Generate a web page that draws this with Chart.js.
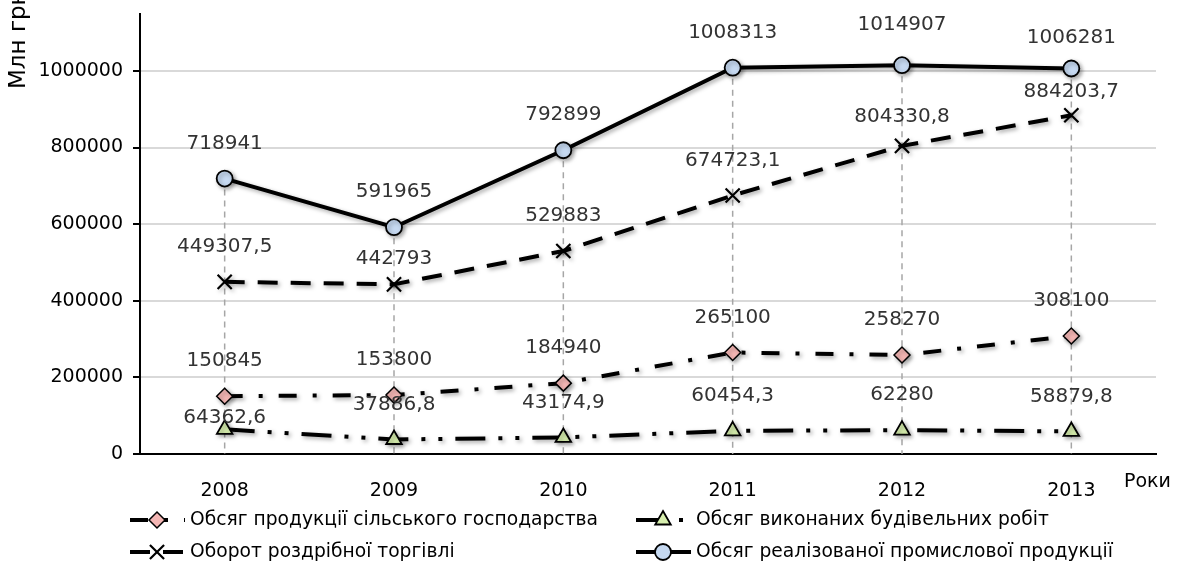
<!DOCTYPE html>
<html>
<head>
<meta charset="utf-8">
<script src="https://cdn.jsdelivr.net/npm/chart.js@4.4.1/dist/chart.umd.min.js"></script>
<style>
    html, body { margin: 0; padding: 0; background: #fff; }
    #wrap { width: 1180px; height: 568px; position: relative; }
</style>
</head>
<body>
<div id="wrap"><canvas id="chart"></canvas></div>
<script>
// Chart data
const years = ['2008', '2009', '2010', '2011', '2012', '2013'];
const agriculture = [150845, 153800, 184940, 265100, 258270, 308100];
const construction = [64362.6, 37886.8, 43174.9, 60454.3, 62280, 58879.8];
const retail = [449307.5, 442793, 529883, 674723.1, 804330.8, 884203.7];
const industry = [718941, 591965, 792899, 1008313, 1014907, 1006281];
const seriesNames = [
    'Обсяг продукції сільського господарства',
    'Обсяг виконаних будівельних робіт',
    'Оборот роздрібної торгівлі',
    'Обсяг реалізованої промислової продукції'
];
const yTicks = [0, 200000, 400000, 600000, 800000, 1000000];
const yTitle = 'Млн грн';
const xTitle = 'Роки';

const FONT = '"DejaVu Sans", sans-serif';
const TEXT = '#333';

function fmt(v) {
    return String(v).replace('.', ',');
}

// dashed drop lines from the top point down to the axis
const dropLines = {
    id: 'dropLines',
    beforeDatasetsDraw(chart) {
        const ctx = chart.ctx;
        const x = chart.scales.x, y = chart.scales.y;
        ctx.save();
        ctx.strokeStyle = '#a6a6a6';
        ctx.lineWidth = 1.5;
        ctx.setLineDash([6, 5]);
        years.forEach((yr, i) => {
            const top = Math.max(agriculture[i], construction[i], retail[i], industry[i]);
            const px = x.getPixelForValue(i);
            ctx.beginPath();
            ctx.moveTo(px, y.getPixelForValue(top));
            ctx.lineTo(px, y.getPixelForValue(0));
            ctx.stroke();
        });
        ctx.restore();
    }
};

// soft shadow under the lines, like the original
const lineShadow = {
    id: 'lineShadow',
    beforeDatasetDraw(chart) {
        const ctx = chart.ctx;
        ctx.save();
        ctx.shadowColor = 'rgba(0,0,0,0.35)';
        ctx.shadowBlur = 4;
        ctx.shadowOffsetX = 2;
        ctx.shadowOffsetY = 2;
    },
    afterDatasetDraw(chart) {
        chart.ctx.restore();
    }
};

// value labels above each point (a few sit closer, as in the original)
const labelLift = { '1-0': 12, '2-1': 26, '2-5': 23, '2-4': 29, '3-5': 31, '3-4': 40 };
const valueLabels = {
    id: 'valueLabels',
    afterDatasetsDraw(chart) {
        const ctx = chart.ctx;
        ctx.save();
        ctx.font = '20px ' + FONT;
        ctx.fillStyle = TEXT;
        ctx.textAlign = 'center';
        ctx.textBaseline = 'middle';
        chart.data.datasets.forEach((ds, di) => {
            const meta = chart.getDatasetMeta(di);
            meta.data.forEach((pt, i) => {
                const lift = labelLift[di + '-' + i] || 35;
                ctx.fillText(fmt(ds.data[i]), pt.x, pt.y - lift);
            });
        });
        ctx.restore();
    }
};

// axis titles and the two-column legend
const extras = {
    id: 'extras',
    afterDraw(chart) {
        const ctx = chart.ctx;
        ctx.save();
        ctx.fillStyle = '#000';
        ctx.font = '19px ' + FONT;
        ctx.textBaseline = 'middle';
        ctx.textAlign = 'left';
        ctx.fillText(xTitle, 1124, 482);

        ctx.font = '23px ' + FONT;
        ctx.translate(19, 89);
        ctx.rotate(-Math.PI / 2);
        ctx.fillText(yTitle, 0, 0);
        ctx.restore();

        const slots = [[130, 520], [636, 520], [130, 552], [636, 552]];
        ctx.save();
        ctx.font = '18.7px ' + FONT;
        ctx.textBaseline = 'middle';
        chart.data.datasets.forEach((ds, di) => {
            const [lx, ly] = slots[di];
            ctx.save();
            ctx.strokeStyle = '#000';
            ctx.lineWidth = 4;
            ctx.setLineDash(ds.borderDash || []);
            ctx.beginPath();
            ctx.moveTo(lx, ly);
            ctx.lineTo(lx + 55, ly);
            ctx.stroke();
            ctx.restore();
            ctx.save();
            ctx.fillStyle = ds.pointBackgroundColor;
            ctx.strokeStyle = ds.pointBorderColor;
            ctx.lineWidth = ds.pointBorderWidth;
            Chart.helpers.drawPoint(ctx, {
                pointStyle: ds.pointStyle,
                radius: ds.pointRadius,
                borderWidth: ds.pointBorderWidth
            }, lx + 27, ly);
            ctx.restore();
            ctx.fillStyle = '#000';
            ctx.fillText(ds.label, lx + 60, ly);
        });
        ctx.restore();
    }
};

function makeSet(label, data, dash, style, fill, radius, bw) {
    return {
        label: label,
        data: data,
        borderColor: '#000',
        borderWidth: 4,
        borderDash: dash,
        borderCapStyle: 'butt',
        tension: 0,
        pointStyle: style,
        pointRadius: radius,
        pointHoverRadius: radius,
        pointBackgroundColor: fill,
        pointBorderColor: '#000',
        pointBorderWidth: bw
    };
}

const ctx = document.getElementById('chart').getContext('2d');
const chart = new Chart(ctx, {
    type: 'line',
    data: {
        labels: years,
        datasets: [
            makeSet(seriesNames[0], agriculture, [18, 16, 4, 16], 'rectRot', '#f4b6b4', 8, 1.5),
            makeSet(seriesNames[1], construction, [30, 13, 4, 13, 4, 13], 'triangle', '#d7efae', 9, 1.8),
            makeSet(seriesNames[2], retail, [20, 13], 'crossRot', '#000', 10, 2.2),
            makeSet(seriesNames[3], industry, [], 'circle', '#c6d9f1', 8, 1.8)
        ]
    },
    options: {
        responsive: true,
        maintainAspectRatio: false,
        animation: false,
        layout: { padding: { top: 2, right: 24, left: 0, bottom: 0 } },
        plugins: {
            legend: { display: false },
            tooltip: { enabled: false }
        },
        scales: {
            x: {
                offset: true,
                grid: { display: false, drawTicks: false },
                border: { color: '#000', width: 2 },
                ticks: {
                    color: '#000',
                    padding: 26,
                    font: { family: FONT, size: 19 }
                },
                afterFit(scale) { scale.height = 114; }
            },
            y: {
                min: 0,
                max: 1149000,
                grid: {
                    color: '#d9d9d9',
                    lineWidth: 2,
                    tickColor: '#000',
                    tickLength: 7
                },
                border: { color: '#000', width: 2 },
                ticks: {
                    color: '#000',
                    padding: 10,
                    font: { family: FONT, size: 19, lineHeight: 0.4 },
                    callback: v => String(v)
                },
                afterBuildTicks(scale) {
                    scale.ticks = yTicks.map(v => ({ value: v }));
                },
                afterFit(scale) { scale.width = 140; }
            }
        }
    },
    plugins: [dropLines, lineShadow, valueLabels, extras]
});
</script>
</body>
</html>
